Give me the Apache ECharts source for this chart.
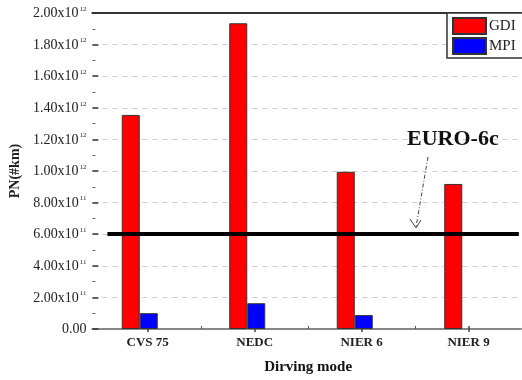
<!DOCTYPE html>
<html>
<head>
<meta charset="utf-8">
<script src="https://cdn.jsdelivr.net/npm/echarts@6/dist/echarts.min.js"></script>
<style>
  html, body { margin: 0; padding: 0; background: #fff; }
  #chart { width: 522px; height: 380px; }
</style>
</head>
<body>
<div id="chart"></div>
<script>
// Particle number emissions per driving cycle
const modes = ['CVS 75', 'NEDC', 'NIER 6', 'NIER 9'];
const gdiValues = [1.355e12, 1.935e12, 0.995e12, 0.918e12];
const mpiValues = [0.100e12, 0.163e12, 0.088e12, null];
const euro6cLimit = 6.0e11;
const yMax = 2.0e12;
const yStep = 2.0e11;

const serif = '"Liberation Serif", "DejaVu Serif", serif';

function sciLabel(v) {
  if (v === 0) return '{m|0.00}';
  const exp = Math.floor(Math.log10(v) + 1e-9);
  const mant = (v / Math.pow(10, exp)).toFixed(2);
  return '{m|' + mant + 'x10}{e|' + exp + '}';
}

const chart = echarts.init(document.getElementById('chart'));

chart.setOption({
  animation: false,
  backgroundColor: '#fff',
  grid: [
    // frame with the value axis
    { left: 88, right: 1, top: 13, bottom: 51 },
    // bars
    { left: 86, width: 430, top: 13, bottom: 51 },
    // category labels and ticks
    { left: 94.25, width: 430, top: 13, bottom: 51 }
  ],
  legend: {
    data: ['GDI', 'MPI'],
    orient: 'vertical',
    left: 447,
    top: 13,
    itemWidth: 33,
    itemHeight: 16,
    itemGap: 2,
    padding: [4, 40, 3, 5],
    icon: 'rect',
    backgroundColor: '#fff',
    borderColor: '#333',
    borderWidth: 1.5,
    textStyle: { fontFamily: serif, fontSize: 15, color: '#222', padding: [0, 0, 0, -2] },
    z: 10
  },
  xAxis: [
    {
      type: 'value', gridIndex: 0, min: 0, max: 1, position: 'bottom',
      axisLine: { show: true, lineStyle: { color: '#888', width: 2 } },
      axisTick: { show: false }, axisLabel: { show: false }, splitLine: { show: false }
    },
    {
      type: 'value', gridIndex: 0, min: 0, max: 1, position: 'top',
      axisLine: { show: true, lineStyle: { color: '#333', width: 2 } },
      axisTick: { show: false }, axisLabel: { show: false }, splitLine: { show: false }
    },
    {
      type: 'category', gridIndex: 1, data: modes, position: 'bottom',
      axisLine: { show: false }, axisTick: { show: false }, axisLabel: { show: false }
    },
    {
      type: 'category', gridIndex: 2, data: modes, position: 'bottom',
      axisLine: { show: false },
      axisTick: { show: true, alignWithLabel: true, length: 6, lineStyle: { color: '#444', width: 1.5 } },
      axisLabel: { margin: 10, fontFamily: serif, fontSize: 13, fontWeight: 'bold', color: '#222' },
      name: 'Dirving mode',
      nameLocation: 'middle',
      nameGap: 34,
      nameTextStyle: { fontFamily: serif, fontSize: 15, fontWeight: 'bold', color: '#111' }
    },
    {
      // short ticks on the category boundaries
      type: 'category', gridIndex: 2, data: modes, position: 'bottom',
      axisLine: { show: false },
      axisTick: { show: true, length: 3, interval: (i) => i > 0, lineStyle: { color: '#555' } },
      axisLabel: { show: false }
    }
  ],
  yAxis: [
    {
      type: 'value', gridIndex: 0, min: 0, max: yMax, interval: yStep,
      name: 'PN(#km)',
      nameLocation: 'middle',
      nameGap: 70,
      nameTextStyle: { fontFamily: serif, fontSize: 14, fontWeight: 'bold', color: '#222' },
      axisLine: { show: false },
      axisTick: { show: true, inside: true, length: 6, lineStyle: { color: '#333', width: 1.5 } },
      minorTick: { show: true, splitNumber: 2, length: 3, lineStyle: { color: '#666' } },
      splitLine: { show: true, lineStyle: { color: '#ccc', type: [5, 5], width: 1 } },
      axisLabel: {
        margin: 6,
        formatter: sciLabel,
        rich: {
          m: { fontFamily: serif, fontSize: 14, color: '#222', lineHeight: 15, verticalAlign: 'bottom' },
          e: { fontFamily: serif, fontSize: 7, color: '#222', lineHeight: 15, verticalAlign: 'top', padding: [0, 0, 0, 1] }
        }
      }
    },
    {
      type: 'value', gridIndex: 1, min: 0, max: yMax, interval: yStep, show: false
    },
    {
      type: 'value', gridIndex: 2, min: 0, max: yMax, interval: yStep, show: false
    }
  ],
  series: [
    {
      name: 'GDI', type: 'bar', xAxisIndex: 2, yAxisIndex: 1,
      data: gdiValues, barWidth: 18, barGap: '0%',
      itemStyle: { color: '#ff0000', borderColor: '#333', borderWidth: 1 }
    },
    {
      name: 'MPI', type: 'bar', xAxisIndex: 2, yAxisIndex: 1,
      data: mpiValues, barWidth: 18, barGap: '0%',
      itemStyle: { color: '#0000ff', borderColor: '#333', borderWidth: 1 }
    },
    {
      // EURO-6c particle number limit
      name: 'EURO-6c', type: 'line', xAxisIndex: 0, yAxisIndex: 0, data: [],
      markLine: {
        silent: true, symbol: 'none', label: { show: false },
        lineStyle: { color: '#000', width: 4, type: 'solid' },
        data: [[{ coord: [0.035, euro6cLimit] }, { coord: [0.995, euro6cLimit] }]]
      },
      z: 5
    }
  ],
  graphic: [
    {
      type: 'text', left: 407, top: 128, z: 20,
      style: { text: 'EURO-6c', font: 'bold 22px ' + serif, fill: '#111' }
    },
    {
      type: 'line', z: 20,
      shape: { x1: 428, y1: 157, x2: 416, y2: 227 },
      style: { stroke: '#444', lineWidth: 1, lineDash: [4, 2, 1, 2] }
    },
    {
      type: 'polyline', z: 20,
      shape: { points: [[410, 219], [416, 228], [421, 220]] },
      style: { stroke: '#444', lineWidth: 1, fill: null }
    }
  ]
});
</script>
</body>
</html>
